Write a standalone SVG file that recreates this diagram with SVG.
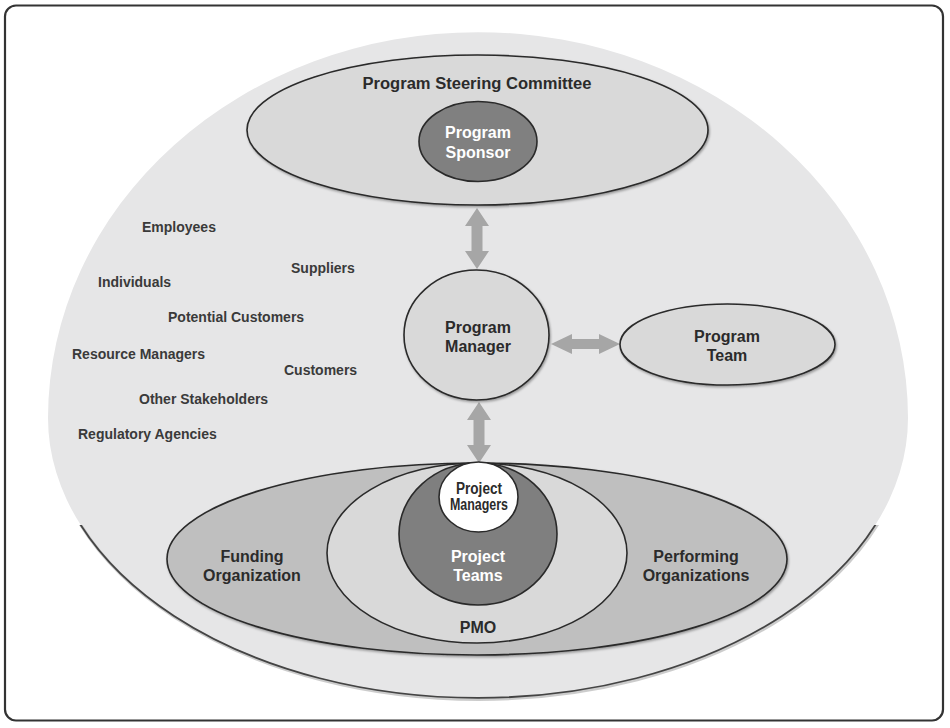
<svg xmlns="http://www.w3.org/2000/svg" width="950" height="728" viewBox="0 0 950 728">
<defs>
<style>
.lbl{font-family:"Liberation Sans",Arial,sans-serif;font-weight:bold;font-size:16px;fill:#2b2b2b;text-anchor:middle}
.wht{fill:#ffffff}
.sh{font-family:"Liberation Sans",Arial,sans-serif;font-weight:bold;font-size:14px;fill:#3a3a3a}
.node{stroke:#2a2a2a;stroke-width:1.6}
.arrow{fill:#a6a6a6;stroke:none}
</style>
<filter id="ds" x="-10%" y="-10%" width="120%" height="130%">
<feDropShadow dx="1" dy="1.5" stdDeviation="1" flood-color="#000" flood-opacity="0.35"/>
</filter>
<clipPath id="lower">
<rect x="0" y="525" width="950" height="203"/>
</clipPath>
<path id="envShape" d="M 48 418 A 430 386 0 0 1 908 418 A 430 280 0 0 1 48 418 Z"/>
</defs>
<rect x="0" y="0" width="950" height="728" fill="#ffffff"/>
<rect x="5" y="5.5" width="938" height="715" rx="11" ry="11" fill="#ffffff" stroke="#333333" stroke-width="2.2"/>

<g id="environment">
<use href="#envShape" fill="#e6e6e7"/>
<g clip-path="url(#lower)">
<use href="#envShape" fill="none" stroke="#aaaaaa" stroke-width="3" stroke-opacity="0.6" transform="translate(1,1.5)"/>
<use href="#envShape" fill="none" stroke="#444444" stroke-width="1.8"/>
</g>
</g>

<g id="stakeholders">
<text class="sh" x="142" y="232">Employees</text>
<text class="sh" x="291" y="273">Suppliers</text>
<text class="sh" x="98" y="287">Individuals</text>
<text class="sh" x="168" y="322">Potential Customers</text>
<text class="sh" x="72" y="359">Resource Managers</text>
<text class="sh" x="284" y="375">Customers</text>
<text class="sh" x="139" y="404">Other Stakeholders</text>
<text class="sh" x="78" y="439">Regulatory Agencies</text>
</g>

<g id="connectors">
<polygon class="arrow" points="477,208 465,226 471.5,226 471.5,251 465,251 477,269 489,251 482.5,251 482.5,226 489,226"/>
<polygon class="arrow" points="551,344 572,334 572,339 599,339 599,334 620,344 599,354 599,349 572,349 572,354"/>
<polygon class="arrow" points="479,402 467,420 473.5,420 473.5,445 467,445 479,463 491,445 484.5,445 484.5,420 491,420"/>
</g>

<g id="steering-committee">
<ellipse class="node" cx="477.5" cy="130" rx="230.5" ry="75" fill="#d9d9d9" filter="url(#ds)"/>
<text class="lbl" x="477" y="89" font-size="16.5" textLength="229" lengthAdjust="spacingAndGlyphs">Program Steering Committee</text>
</g>

<g id="program-sponsor">
<ellipse class="node" cx="478" cy="141.5" rx="59" ry="40" fill="#808080"/>
<text class="lbl wht" x="478" y="138">Program</text>
<text class="lbl wht" x="478" y="158">Sponsor</text>
</g>

<g id="program-manager">
<ellipse class="node" cx="476.5" cy="335" rx="72.5" ry="65" fill="#d9d9d9" filter="url(#ds)"/>
<text class="lbl" x="478" y="333">Program</text>
<text class="lbl" x="478" y="352">Manager</text>
</g>

<g id="program-team">
<ellipse class="node" cx="727.5" cy="344.5" rx="107.5" ry="40.5" fill="#d9d9d9" filter="url(#ds)"/>
<text class="lbl" x="727" y="342">Program</text>
<text class="lbl" x="727" y="361">Team</text>
</g>

<g id="organizations">
<ellipse class="node" cx="477" cy="559" rx="310" ry="96" fill="#bfbfbf" filter="url(#ds)"/>
<text class="lbl" x="252" y="562">Funding</text>
<text class="lbl" x="252" y="581">Organization</text>
<text class="lbl" x="696" y="562">Performing</text>
<text class="lbl" x="696" y="581">Organizations</text>
</g>

<g id="pmo">
<ellipse class="node" cx="477" cy="553" rx="150" ry="90" fill="#d9d9d9"/>
<text class="lbl" x="478" y="633">PMO</text>
</g>

<g id="project-teams">
<ellipse class="node" cx="478" cy="534" rx="79" ry="71" fill="#7f7f7f"/>
<text class="lbl wht" x="478" y="562" font-size="17">Project</text>
<text class="lbl wht" x="478" y="581" font-size="17">Teams</text>
</g>

<g id="project-managers">
<ellipse class="node" cx="478.5" cy="497" rx="39.5" ry="35" fill="#ffffff"/>
<text class="lbl" x="479" y="494" font-size="12.5" textLength="46" lengthAdjust="spacingAndGlyphs">Project</text>
<text class="lbl" x="479" y="510" font-size="12.5" textLength="58" lengthAdjust="spacingAndGlyphs">Managers</text>
</g>
</svg>
